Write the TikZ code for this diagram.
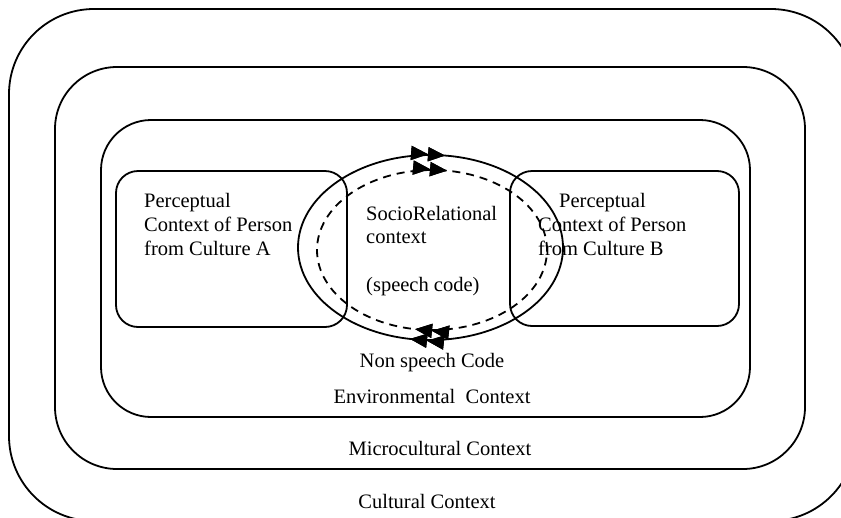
\documentclass[tikz,border=0pt]{standalone}
\usepackage{fontspec}
\setmainfont{Liberation Serif}
\usetikzlibrary{arrows.meta,decorations.markings}
\begin{document}
\begin{tikzpicture}[x=1pt,y=-1pt,
  frame/.style={draw,line width=1.8pt,inner sep=0pt,outer sep=0pt},
  lbl/.style={inner sep=0pt,anchor=base west,font=\fontsize{20.5}{24}\selectfont},
  clbl/.style={inner sep=0pt,anchor=base,font=\fontsize{20.5}{24}\selectfont},
  flowmark/.style={postaction={decorate},
    decoration={markings,mark=at position #1 with {\arrowreversed{Triangle[length=17pt,width=14pt] Triangle[length=17pt,width=14pt]}}}}
]
\useasboundingbox (0,0) rectangle (841,517);
\begin{scope}
\clip (0,0) rectangle (841,517);
% nested context frames
\node[frame,rounded corners=85pt,minimum width=847pt,minimum height=512pt] (cultural) at (432.5,265) {};
\node[frame,rounded corners=62pt,minimum width=750pt,minimum height=402pt] (micro) at (430,268) {};
\node[frame,rounded corners=50pt,minimum width=649pt,minimum height=297pt] (env) at (425.5,268.5) {};
\end{scope}

% perceptual contexts of the two persons
\node[frame,rounded corners=22pt,minimum width=231pt,minimum height=156pt] (persA) at (231.5,249) {};
\node[frame,rounded corners=22pt,minimum width=229pt,minimum height=155pt] (persB) at (624.5,248.5) {};

% socio-relational loop (speech code) and non speech code loop
\coordinate (socio) at (430.5,247.5);
\coordinate (nonspeech) at (432,250);
\draw[line width=1.8pt,flowmark=0.2296,flowmark=0.7212] (socio) ellipse [x radius=132.5pt,y radius=92.5pt];
\draw[line width=1.8pt,dash pattern=on 8pt off 6pt,flowmark=0.2257,flowmark=0.7225] (nonspeech) ellipse [x radius=115pt,y radius=80pt];

% labels
\node[lbl] (a1) at (144,207) {Perceptual};
\node[lbl] (a2) at (144,231) {Context of Person};
\node[lbl] (a3) at (144,255) {from Culture A};

\node[lbl] (b1) at (559,207) {Perceptual};
\node[lbl] (b2) at (538,231) {Context of Person};
\node[lbl] (b3) at (538,255) {from Culture B};

\node[lbl] (s1) at (366,220) {SocioRelational};
\node[lbl] (s2) at (366,243) {context};
\node[lbl] (s3) at (366,291) {(speech code)};

\node[clbl] (nsc) at (432,367) {Non speech Code};
\node[clbl] (envl) at (432,403) {Environmental\ \ Context};
\node[clbl] (microl) at (440,455) {Microcultural Context};
\node[clbl] (cultl) at (427,508) {Cultural Context};
\end{tikzpicture}
\end{document}
